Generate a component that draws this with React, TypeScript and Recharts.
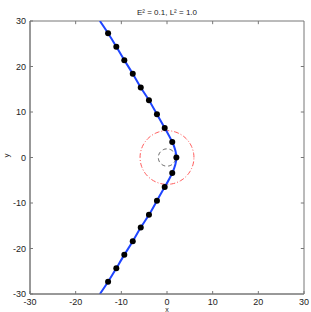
import { ComposedChart, Line, Scatter, XAxis, YAxis, Label, ReferenceArea, ReferenceLine } from "recharts";

// trajectory (x, y), end points sit on the frame
const trajX = [-14.7, -12.9, -11.1, -9.35, -7.5, -5.75, -3.95, -2.2, -0.5, 1.15, 2.05, 1.15, -0.5, -2.2, -3.95, -5.75, -7.5, -9.35, -11.1, -12.9, -14.7];
const trajY = [30, 27.3, 24.35, 21.4, 18.4, 15.4, 12.6, 9.5, 6.5, 3.4, 0, -3.4, -6.5, -9.5, -12.6, -15.4, -18.4, -21.4, -24.35, -27.3, -30];

// marker points (every point but the two frame ends)
const dotX = trajX.slice(1, -1);
const dotY = trajY.slice(1, -1);

// reference circles: outer (red dash-dot) and inner (black dashed)
const outerRadius = 5.9;
const innerRadius = 1.9;

const ticks = [-30, -20, -10, 0, 10, 20, 30];
const innerTicks = [-20, -10, 0, 10, 20];

const traj = trajX.map((x, i) => ({ x, y: trajY[i] }));
const dots = dotX.map((x, i) => ({ x, y: dotY[i] }));
const circle = (r: number) =>
  Array.from({ length: 91 }, (_, i) => {
    const a = (i / 90) * Math.PI * 2;
    return { x: r * Math.cos(a), y: r * Math.sin(a) };
  });

const font = "'Liberation Sans', Arial, sans-serif";
const tickStyle = { fontSize: 9, fill: "#222", fontFamily: font };
const frame = "#777";
const tickLen = 0.7;

export default function App() {
  return (
    <div style={{ position: "absolute", left: 0, top: 0, background: "#fff" }}>
      <ComposedChart width={311} height={312} margin={{ top: 21, right: 7, left: 0, bottom: 0 }}>
        <text x={167} y={15} textAnchor="middle" fontSize={8} fontFamily={font} fill="#222">
          E² = 0.1, L² = 1.0
        </text>
        <XAxis
          type="number"
          dataKey="x"
          domain={[-30, 30]}
          ticks={ticks}
          allowDataOverflow
          height={18}
          stroke={frame}
          tickSize={-3}
          tickMargin={8}
          tick={tickStyle}
        >
          <Label value="x" position="insideBottom" offset={0} style={{ fontSize: 7, fontFamily: font, fill: "#222" }} />
        </XAxis>
        <YAxis
          type="number"
          dataKey="y"
          domain={[-30, 30]}
          ticks={ticks}
          allowDataOverflow
          width={30}
          stroke={frame}
          tickSize={-3}
          tickMargin={7}
          tick={tickStyle}
        >
          <Label value="y" angle={-90} position="insideLeft" offset={6} style={{ fontSize: 8, fontFamily: font, fill: "#222" }} />
        </YAxis>
        <ReferenceArea x1={-30} x2={30} y1={-30} y2={30} fill="none" stroke={frame} strokeWidth={1} />
        {innerTicks.map((t) => (
          <ReferenceLine key={"t" + t} segment={[{ x: t, y: 30 }, { x: t, y: 30 - tickLen }]} stroke={frame} />
        ))}
        {innerTicks.map((t) => (
          <ReferenceLine key={"r" + t} segment={[{ x: 30, y: t }, { x: 30 - tickLen, y: t }]} stroke={frame} />
        ))}
        <Line
          data={circle(outerRadius)}
          dataKey="y"
          type="linear"
          stroke="#ff5a5a"
          strokeWidth={1}
          strokeDasharray="5 2 1 2"
          dot={false}
          isAnimationActive={false}
        />
        <Line
          data={circle(innerRadius)}
          dataKey="y"
          type="linear"
          stroke="#555"
          strokeWidth={1}
          strokeDasharray="4 3"
          dot={false}
          isAnimationActive={false}
        />
        <Line
          data={traj}
          dataKey="y"
          type="natural"
          stroke="#1f45ff"
          strokeWidth={2}
          dot={false}
          isAnimationActive={false}
        />
        <Scatter data={dots} dataKey="y" fill="#000" isAnimationActive={false} shape={(p: any) => <circle cx={p.cx} cy={p.cy} r={3} fill="#000" />} />
      </ComposedChart>
    </div>
  );
}
